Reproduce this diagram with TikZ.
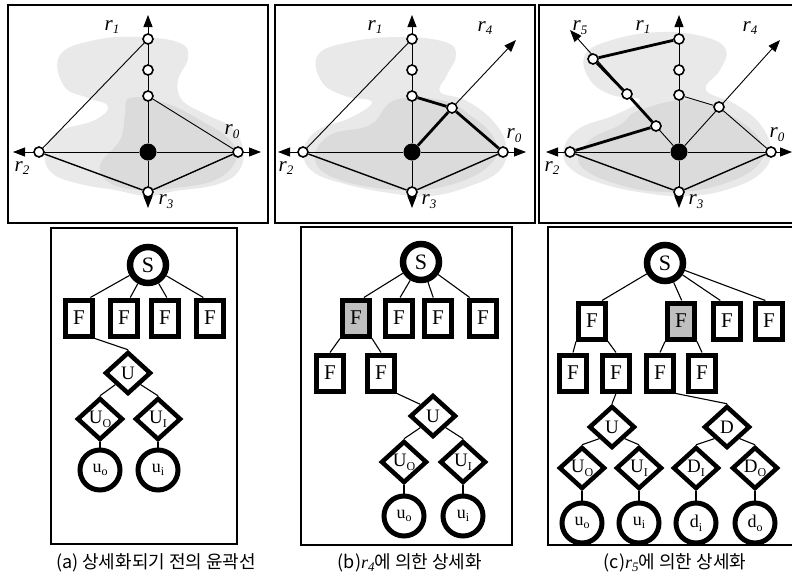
\documentclass[tikz,border=0pt]{standalone}
\usepackage{fontspec}
\setmainfont{Liberation Serif}
\newfontfamily\krfont{Noto Sans CJK KR}
\usetikzlibrary{shapes.geometric,arrows.meta,calc}
\pgfdeclarelayer{back}
\pgfdeclarelayer{mid}
\pgfsetlayers{back,mid,main}

% ray label r_k and subscripted node labels
\newcommand\rsub[1]{r\raisebox{-0.4ex}{\fontsize{13}{13}\selectfont #1}}
\newcommand\lsub[2]{#1\raisebox{-0.45ex}{\fontsize{12}{12}\selectfont #2}}

\tikzset{
  frame/.style={draw, line width=1.3pt},
  haze/.style={fill=gray!17},
  hazedark/.style={fill=gray!28},
  ray/.style={line width=0.9pt, -{Triangle[length=12pt,width=9pt]}},
  edge/.style={line width=0.9pt},
  rim/.style={line width=1.4pt},
  heavy/.style={line width=2.8pt},
  vtx/.style={circle, draw, fill=white, line width=1.6pt, inner sep=0pt, minimum size=10pt},
  hub/.style={circle, fill=black, inner sep=0pt, minimum size=17pt},
  rlabel/.style={font=\fontsize{21}{21}\selectfont\itshape, inner sep=0pt},
  root/.style={circle, draw, fill=white, line width=6.5pt, minimum size=36pt, inner sep=0pt, font=\fontsize{22}{22}\selectfont},
  face/.style={rectangle, draw, fill=white, line width=5pt, minimum width=27pt, minimum height=36pt, inner sep=0pt, font=\fontsize{21}{21}\selectfont},
  faceg/.style={face, fill=gray!50},
  split/.style={diamond, draw, fill=white, line width=4.5pt, minimum width=46pt, minimum height=42pt, inner sep=0pt, font=\fontsize{19}{19}\selectfont},
  leaf/.style={circle, draw, fill=white, line width=5pt, minimum size=40pt, inner sep=0pt, font=\fontsize{18}{18}\selectfont},
  link/.style={line width=1.1pt},
  caption/.style={font=\krfont\fontsize{18}{18}\selectfont, inner sep=0pt},
}

\begin{document}
\begin{tikzpicture}[x=1pt, y=-1pt]
\useasboundingbox (0,0) rectangle (792,584);
\clip (0,0) rectangle (792,584);

\begin{pgfonlayer}{back}
  \fill[white] (0,0) rectangle (792,584);
  % shaded regions behind the contours
  \fill[haze] plot[smooth cycle, tension=0.7] coordinates {(60,55) (95,40) (140,37) (180,43) (188,58) (178,80) (182,100) (205,114) (232,128) (243,150) (238,172) (215,185) (175,191) (148,196) (115,190) (80,184) (52,173) (45,152) (58,132) (95,120) (108,106) (88,98) (64,86)};
  \fill[hazedark] plot[smooth cycle, tension=0.7] coordinates {(130,98) (165,103) (200,120) (230,140) (236,160) (215,180) (175,188) (140,190) (110,183) (100,165) (120,140) (125,115)};
  \fill[haze] plot[smooth cycle, tension=0.7] coordinates {(318,55) (350,42) (400,37) (445,42) (456,55) (447,75) (440,92) (465,100) (492,120) (506,145) (500,170) (470,186) (430,196) (390,193) (345,184) (312,171) (304,150) (318,130) (350,118) (372,102) (345,96) (322,82)};
  \fill[hazedark] plot[smooth cycle, tension=0.7] coordinates {(395,100) (440,100) (470,115) (495,140) (490,165) (450,185) (400,190) (340,180) (315,160) (330,135) (370,125)};
  \fill[haze] plot[smooth cycle, tension=0.7] coordinates {(585,55) (612,40) (660,32) (705,37) (726,50) (720,70) (706,90) (735,104) (760,124) (771,150) (762,172) (732,188) (690,196) (645,193) (600,183) (570,168) (564,148) (580,128) (615,115) (640,100) (612,95) (590,80)};
  \fill[hazedark] plot[smooth cycle, tension=0.7] coordinates {(640,110) (690,100) (730,115) (760,140) (758,165) (720,185) (670,192) (620,185) (580,165) (590,140) (620,125)};
\end{pgfonlayer}

% panel frames
\draw[frame] (8,5) rectangle (268,223);
\draw[frame] (275,5) rectangle (535,223);
\draw[frame] (539,5) rectangle (800,223);
\draw[frame] (51,228) rectangle (237,544);
\draw[frame] (301,227) rectangle (512,545);
\draw[frame] (548,227) rectangle (800,545);

% ---------- (a) contour before refinement ----------
\begin{scope}[shift={(148,152)}]
  \node[hub] (aC) at (0,0) {};
  \node[vtx] (aR0) at (90,0) {};
  \node[vtx] (aR2) at (-109,0) {};
  \node[vtx] (aR3) at (0,40) {};
  \node[vtx] (aR1a) at (0,-113) {};
  \node[vtx] (aR1b) at (0,-82) {};
  \node[vtx] (aR1c) at (0,-56) {};
  \coordinate (aT0) at (113,0);
  \coordinate (aT1) at (0,-137);
  \coordinate (aT2) at (-135,0);
  \coordinate (aT3) at (0,56);
  \begin{pgfonlayer}{mid}
    \draw[ray] (aC) -- (aT0);
    \draw[ray] (aC) -- (aT1);
    \draw[ray] (aC) -- (aT2);
    \draw[ray] (aC) -- (aT3);
    \draw[edge] (aR1a) -- (aR2);
    \draw[edge] (aR1c) -- (aR0);
    \draw[rim] (aR2) -- (aR3);
    \draw[rim] (aR3) -- (aR0);
  \end{pgfonlayer}
  \node[rlabel] (aL0) at (84,-20) {\rsub{0}};
  \node[rlabel] (aL1) at (-36,-125) {\rsub{1}};
  \node[rlabel] (aL2) at (-126,16) {\rsub{2}};
  \node[rlabel] (aL3) at (18,50) {\rsub{3}};
\end{scope}

% ---------- (b) refinement by r4 ----------
\begin{scope}[shift={(412,152)}]
  \node[hub] (bC) at (0,0) {};
  \node[vtx] (bR0) at (91,0) {};
  \node[vtx] (bR2) at (-109,0) {};
  \node[vtx] (bR3) at (0,40) {};
  \node[vtx] (bR1a) at (0,-113) {};
  \node[vtx] (bR1b) at (0,-82) {};
  \node[vtx] (bR1c) at (0,-56) {};
  \node[vtx] (bR4) at (40,-44) {};
  \coordinate (bT0) at (114,0);
  \coordinate (bT1) at (0,-137);
  \coordinate (bT2) at (-134,0);
  \coordinate (bT3) at (0,56);
  \coordinate (bT4) at (104,-112);
  \begin{pgfonlayer}{mid}
    \draw[ray] (bC) -- (bT0);
    \draw[ray] (bC) -- (bT1);
    \draw[ray] (bC) -- (bT2);
    \draw[ray] (bC) -- (bT3);
    \draw[ray] (bR4) -- (bT4);
    \draw[heavy] (bC) -- (bR4);
    \draw[edge] (bR1a) -- (bR2);
    \draw[heavy] (bR1c) -- (bR4);
    \draw[heavy] (bR4) -- (bR0);
    \draw[rim] (bR2) -- (bR3);
    \draw[rim] (bR3) -- (bR0);
  \end{pgfonlayer}
  \node[rlabel] (bL0) at (102,-16) {\rsub{0}};
  \node[rlabel] (bL1) at (-37,-125) {\rsub{1}};
  \node[rlabel] (bL2) at (-126,16) {\rsub{2}};
  \node[rlabel] (bL3) at (17,50) {\rsub{3}};
  \node[rlabel] (bL4) at (73,-124) {\rsub{4}};
\end{scope}

% ---------- (c) refinement by r5 ----------
\begin{scope}[shift={(679,152)}]
  \node[hub] (cC) at (0,0) {};
  \node[vtx] (cR0) at (92,0) {};
  \node[vtx] (cR2) at (-109,0) {};
  \node[vtx] (cR3) at (0,40) {};
  \node[vtx] (cR1a) at (0,-113) {};
  \node[vtx] (cR1b) at (0,-82) {};
  \node[vtx] (cR1c) at (0,-57) {};
  \node[vtx] (cR4) at (40,-45) {};
  \node[vtx] (cR5a) at (-86,-93) {};
  \node[vtx] (cR5b) at (-52,-58) {};
  \node[vtx] (cR5c) at (-23,-26) {};
  \coordinate (cT0) at (113,0);
  \coordinate (cT1) at (0,-137);
  \coordinate (cT2) at (-133,0);
  \coordinate (cT3) at (0,56);
  \coordinate (cT4) at (101,-112);
  \coordinate (cT5) at (-109,-122);
  \begin{pgfonlayer}{mid}
    \draw[ray] (cC) -- (cT0);
    \draw[ray] (cC) -- (cT1);
    \draw[ray] (cC) -- (cT2);
    \draw[ray] (cC) -- (cT3);
    \draw[ray] (cC) -- (cT4);
    \draw[ray] (cC) -- (cT5);
    \draw[edge] (cR1c) -- (cR4);
    \draw[edge] (cR4) -- (cR0);
    \draw[heavy] (cR1a) -- (cR5a);
    \draw[heavy] (cR5a) -- (cR5b);
    \draw[heavy] (cR5b) -- (cR5c);
    \draw[heavy] (cR5c) -- (cR2);
    \draw[rim] (cR2) -- (cR3);
    \draw[rim] (cR3) -- (cR0);
  \end{pgfonlayer}
  \node[rlabel] (cL0) at (98,-17) {\rsub{0}};
  \node[rlabel] (cL1) at (-36,-125) {\rsub{1}};
  \node[rlabel] (cL2) at (-127,16) {\rsub{2}};
  \node[rlabel] (cL3) at (17,50) {\rsub{3}};
  \node[rlabel] (cL4) at (71,-124) {\rsub{4}};
  \node[rlabel] (cL5) at (-99,-124) {\rsub{5}};
\end{scope}

% ---------- tree (a) ----------
\node[root] (aS) at (148,265) {S};
\node[face] (aF1) at (79,318) {F};
\node[face] (aF2) at (124,318) {F};
\node[face] (aF3) at (165,318) {F};
\node[face] (aF4) at (210,318) {F};
\node[split] (aU) at (128,373) {U};
\node[split] (aU0) at (100,419) {\lsub{U}{O}};
\node[split] (aU1) at (158,419) {\lsub{U}{I}};
\node[leaf] (auo) at (100,470) {\lsub{u}{o}};
\node[leaf] (aui) at (158,470) {\lsub{u}{i}};
\begin{pgfonlayer}{mid}
  \draw[link] (aS) -- (aF1.61);
  \draw[link] (aS) -- (aF2.73);
  \draw[link] (aS) -- (aF3.85);
  \draw[link] (aS) -- (aF4.108);
  \draw[link] (aF1.south east) -- (aU.north);
  \draw[link] (aU.south west) -- (aU0.north);
  \draw[link] (aU.south east) -- (aU1.north);
  \draw[link] (aU0.south) -- (auo.north);
  \draw[link] (aU1.south) -- (aui.north);
\end{pgfonlayer}

% ---------- tree (b) ----------
\node[root] (bS) at (421,262) {S};
\node[faceg] (bF1) at (356,318) {F};
\node[face] (bF2) at (399,318) {F};
\node[face] (bF3) at (438,318) {F};
\node[face] (bF4) at (483,318) {F};
\node[face] (bFa) at (330,373) {F};
\node[face] (bFb) at (381,373) {F};
\node[split] (bU) at (433,416) {U};
\node[split] (bU0) at (404,462) {\lsub{U}{O}};
\node[split] (bU1) at (463,462) {\lsub{U}{I}};
\node[leaf] (buo) at (404,516) {\lsub{u}{o}};
\node[leaf] (bui) at (463,516) {\lsub{u}{i}};
\begin{pgfonlayer}{mid}
  \draw[link] (bS) -- (bF1.69);
  \draw[link] (bS) -- (bF2.87);
  \draw[link] (bS) -- (bF3.103);
  \draw[link] (bS) -- (bF4.123);
  \draw[link] (bF1.south west) -- (bFa.north);
  \draw[link] (bF1.south east) -- (bFb.north);
  \draw[link] (bFb.south east) -- (bU.north west);
  \draw[link] (bU.south west) -- (bU0.north);
  \draw[link] (bU.south east) -- (bU1.north);
  \draw[link] (bU0.south) -- (buo.north);
  \draw[link] (bU1.south) -- (bui.north);
\end{pgfonlayer}

% ---------- tree (c) ----------
\node[root] (cS) at (665,263) {S};
\node[face] (cF1) at (592,321) {F};
\node[faceg] (cF2) at (681,321) {F};
\node[face] (cF3) at (727,321) {F};
\node[face] (cF4) at (769,321) {F};
\node[face] (cFa) at (573,373) {F};
\node[face] (cFb) at (616,373) {F};
\node[face] (cFc) at (660,373) {F};
\node[face] (cFd) at (702,373) {F};
\node[split] (cU) at (612,427) {U};
\node[split] (cD) at (727,427) {D};
\node[split] (cU0) at (582,468) {\lsub{U}{O}};
\node[split] (cU1) at (639,468) {\lsub{U}{I}};
\node[split] (cD1) at (696,468) {\lsub{D}{I}};
\node[split] (cD0) at (755,468) {\lsub{D}{O}};
\node[leaf] (cuo) at (582,523) {\lsub{u}{o}};
\node[leaf] (cui) at (639,523) {\lsub{u}{i}};
\node[leaf] (cdi) at (696,523) {\lsub{d}{i}};
\node[leaf] (cdo) at (755,523) {\lsub{d}{o}};
\begin{pgfonlayer}{mid}
  \draw[link] (cS) -- (cF1.64);
  \draw[link] (cS) -- (cF2.88);
  \draw[link] (cS) -- (cF3.108);
  \draw[link] (cS) -- (cF4.100);
  \draw[link] (cF1.south west) -- (cFa.north);
  \draw[link] (cF1.south east) -- (cFb.north);
  \draw[link] (cF2.south west) -- (cFc.north);
  \draw[link] (cF2.south east) -- (cFd.north);
  \draw[link] (cFb.south) -- (cU.north);
  \draw[link] (cFc.south east) -- (cD.north);
  \draw[link] (cU.south west) -- (cU0.north);
  \draw[link] (cU.south east) -- (cU1.north);
  \draw[link] (cD.south west) -- (cD1.north);
  \draw[link] (cD.south east) -- (cD0.north);
  \draw[link] (cU0.south) -- (cuo.north);
  \draw[link] (cU1.south) -- (cui.north);
  \draw[link] (cD1.south) -- (cdi.north);
  \draw[link] (cD0.south) -- (cdo.north);
\end{pgfonlayer}

% ---------- captions ----------
\node[caption] (capA) at (156,563) {(a) 상세화되기 전의 윤곽선};
\node[caption] (capB) at (410,563) {(b){\rmfamily\itshape\rsub{4}}에 의한 상세화};
\node[caption] (capC) at (675,563) {(c){\rmfamily\itshape\rsub{5}}에 의한 상세화};
\end{tikzpicture}
\end{document}
